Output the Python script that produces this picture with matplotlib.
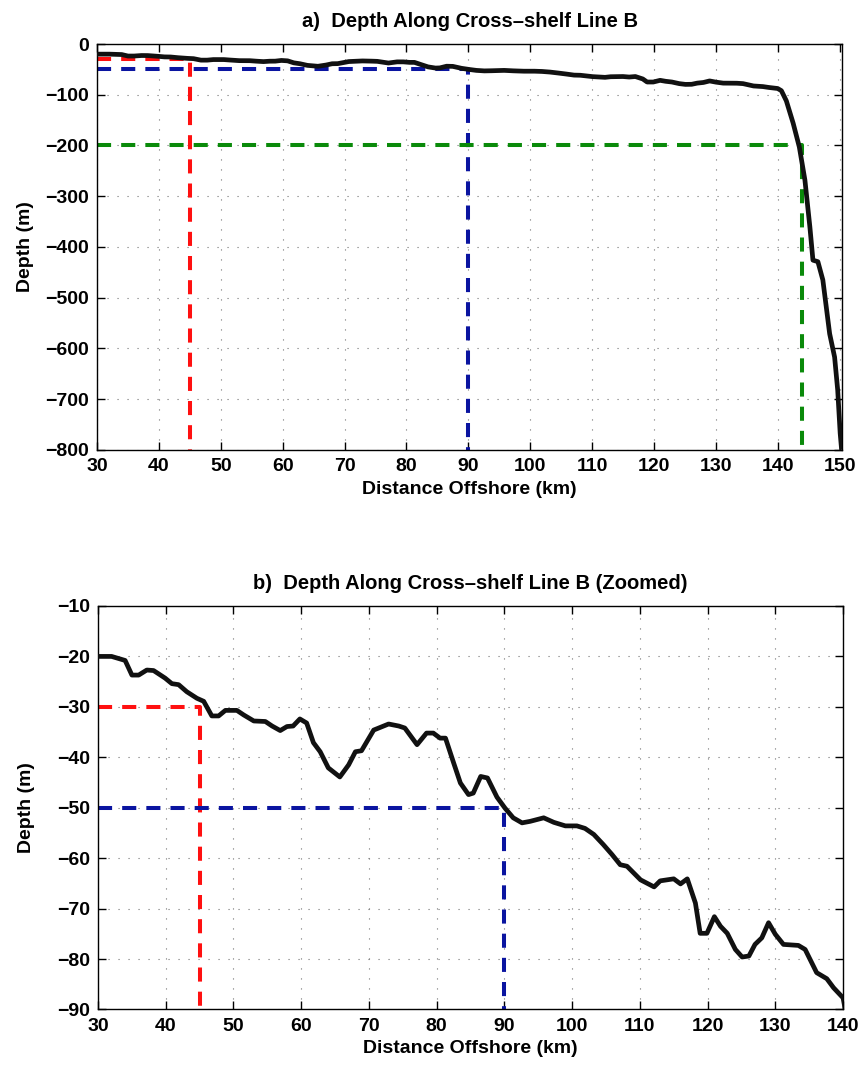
import matplotlib
matplotlib.use("Agg")
import matplotlib.pyplot as plt

plt.rcParams['font.family'] = ['Liberation Sans', 'DejaVu Sans']
plt.rcParams['font.weight'] = 'bold'
plt.rcParams['axes.titleweight'] = 'bold'
plt.rcParams['axes.labelweight'] = 'bold'

# bathymetry along cross-shelf line B
dist_km = [30.3, 32.0, 34.0, 35.0, 36.0, 37.2, 38.2, 39.9, 40.9, 41.9,
           43.1, 44.6, 45.6, 46.8, 47.8, 48.8, 50.5, 51.5, 53.0, 54.7,
           55.7, 56.9, 57.9, 58.8, 59.8, 60.8, 61.8, 62.8, 64.0, 65.7,
           67.0, 68.0, 68.9, 70.7, 72.9, 74.4, 75.3, 77.1, 78.5, 79.5,
           80.5, 81.3, 82.5, 83.5, 84.7, 85.4, 86.5, 87.5, 88.9, 90.1,
           91.3, 92.6, 93.8, 95.8, 97.3, 99.0, 100.7, 101.9, 103.2, 104.6,
           105.9, 107.1, 108.1, 110.1, 112.1, 113.0, 115.0, 116.0, 117.0, 118.2,
           118.9, 119.9, 121.0, 121.9, 122.9, 124.1, 125.1, 126.1, 127.0, 128.0,
           129.0, 130.0, 131.2, 133.4, 134.4, 136.1, 137.6, 138.6, 140.0, 140.6,
           141.4, 142.5, 143.5, 144.4, 145.2, 145.7, 146.5, 147.3, 148.4, 149.2,
           149.7, 150.1, 150.3]
depth_m = [-20.0, -20.0, -20.8, -23.7, -23.7, -22.7, -22.8, -24.3, -25.4, -25.6,
           -27.0, -28.3, -28.9, -31.8, -31.8, -30.7, -30.7, -31.6, -32.8, -32.9,
           -33.8, -34.7, -33.9, -33.8, -32.4, -33.2, -37.1, -38.9, -42.1, -43.9,
           -41.5, -38.9, -38.7, -34.6, -33.4, -33.8, -34.2, -37.5, -35.2, -35.2,
           -36.2, -36.2, -41.1, -45.1, -47.4, -47.1, -43.8, -44.1, -47.9, -50.1,
           -52.0, -53.0, -52.7, -52.0, -52.9, -53.6, -53.6, -54.1, -55.3, -57.3,
           -59.3, -61.3, -61.6, -64.3, -65.7, -64.5, -64.1, -65.1, -64.1, -68.9,
           -74.9, -74.9, -71.6, -73.5, -74.9, -78.1, -79.6, -79.4, -77.1, -75.8,
           -72.8, -75.1, -77.1, -77.3, -78.1, -82.7, -83.9, -85.7, -87.7, -92.0,
           -112, -156, -203, -268, -360, -426, -429, -465, -571, -617,
           -682, -767, -795]

# isobath markers: depth level and where it crosses the line
iso_depth = [-30, -50, -200]
iso_dist = [45, 90, 144]
iso_color = ['#ff1010', '#0a14a0', '#0a8a0a']

top_xticks = list(range(30, 151, 10))
top_yticks = list(range(-800, 1, 100))
bot_xticks = list(range(30, 141, 10))
bot_yticks = list(range(-90, -9, 10))


def draw_panel(ax, xlim, ylim, xticks, yticks, title):
    ax.grid(True, linestyle=(0, (1, 8)), color='0.45', linewidth=0.8)
    ax.set_axisbelow(True)
    for d, x, c in zip(iso_depth, iso_dist, iso_color):
        ax.plot([xlim[0], x, x], [d, d, ylim[0]], color=c, linewidth=2.9,
                dashes=(3.5, 2.5), zorder=2)
    ax.plot(dist_km, depth_m, color='#111111', linewidth=3.4, zorder=3,
            solid_joinstyle='round')
    ax.set_xlim(*xlim)
    ax.set_ylim(*ylim)
    ax.set_xticks(xticks)
    ax.set_yticks(yticks)
    ax.tick_params(direction='in', length=6, width=1, top=True, right=True,
                   labelsize=14, pad=6)
    for s in ax.spines.values():
        s.set_linewidth(1.0)
    ax.set_xlabel('Distance Offshore (km)', fontsize=14, labelpad=4)
    ax.set_ylabel('Depth (m)', fontsize=14)
    ax.yaxis.set_label_coords(-0.085, 0.5)
    ax.set_title(title, fontsize=14.5, pad=12)


fig = plt.figure(figsize=(8.63, 10.68), dpi=100)
ax1 = fig.add_axes([0.1124, 0.5787, 0.8633, 0.3801])
ax2 = fig.add_axes([0.1136, 0.0548, 0.8633, 0.3778])

draw_panel(ax1, (30, 150.4), (-800, 0), top_xticks, top_yticks,
           'a)  Depth Along Cross\u2013shelf Line B')
draw_panel(ax2, (30, 140), (-90, -10), bot_xticks, bot_yticks,
           'b)  Depth Along Cross\u2013shelf Line B (Zoomed)')

fig.savefig('out.png', dpi=100)
